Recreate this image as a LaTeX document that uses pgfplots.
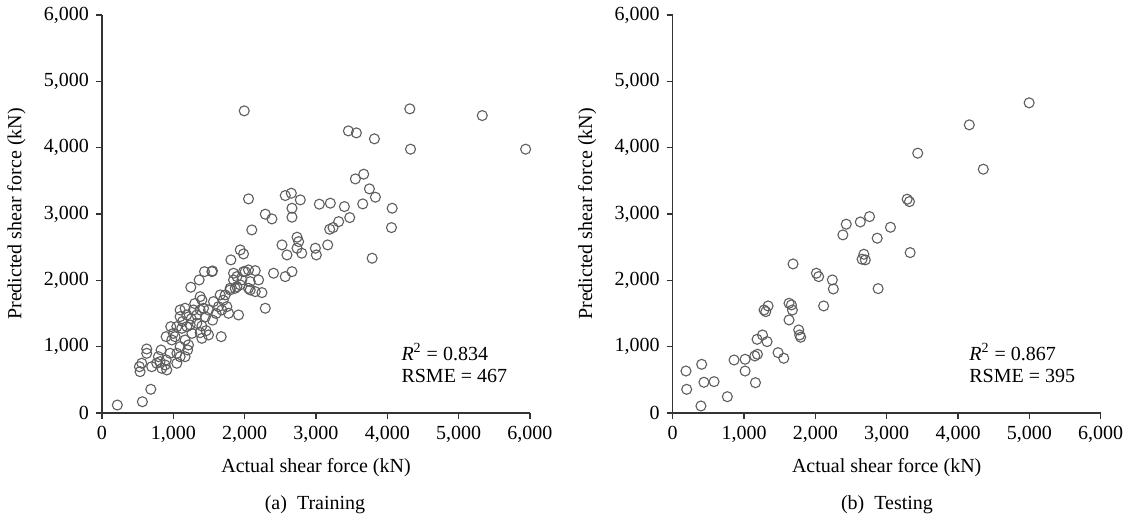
\documentclass[border=0pt]{standalone}
\usepackage{pgfplots}
\pgfplotsset{compat=1.18}
\usepackage{fontspec}
\setmainfont{Liberation Serif}
\definecolor{mk}{HTML}{5E5E5E}
\definecolor{ax}{HTML}{333333}
\pgfplotsset{
  myax/.style={
    scale only axis, width=214pt, height=199pt,
    xmin=0, xmax=6000, ymin=0, ymax=6000,
    axis lines=left, axis line style={-, ax, line width=0.6pt},
    tick align=outside, major tick length=3pt,
    tick style={ax, line width=0.6pt},
    xtick={0,1000,...,6000}, ytick={0,1000,...,6000},
    scaled ticks=false,
    /pgf/number format/assume math mode=true,
    /pgf/number format/1000 sep={,},
    ticklabel style={font=\fontsize{10}{12}\selectfont},
    label style={font=\fontsize{10}{12}\selectfont},
    xlabel={Actual shear force (kN)},
    ylabel={Predicted shear force (kN)},
    every axis x label/.style={at={(axis description cs:0.5,-0.136)}, anchor=center},
    every axis y label/.style={at={(axis description cs:-0.2,0.5)}, rotate=90, anchor=center},
    clip=false,
  },
  mystyle/.style={only marks, mark=o, mark size=2.5pt, mark options={draw=mk, line width=0.55pt}},
}
\begin{document}
\begin{tikzpicture}
\useasboundingbox (0,0) rectangle (563pt,-261.5pt);
\begin{axis}[myax, at={(51pt,-206.5pt)}, anchor=south west]
\addplot[mystyle] coordinates {
(215,120) (566,170) (684,357) (524,698) (534,623) (557,750) (627,965) (627,900)
(697,698) (768,750) (814,774) (885,724) (908,649) (838,674) (828,950) (791,849)
(955,900) (1049,750) (1095,849) (1165,849) (978,1101) (899,1151) (1025,1151)
(1095,1000) (1212,1026) (1165,1101) (964,1302) (1049,1302) (1119,1277) (1189,1302)
(1236,1327) (1329,1352) (1400,1312) (1376,1211) (1460,1241) (1400,1126) (1493,1176)
(1671,1151) (1095,1553) (1165,1579) (1095,1453) (1189,1478) (1282,1553) (1329,1478)
(1376,1553) (1423,1579) (1493,1553) (1400,1704) (1376,1754) (1563,1679) (1633,1603)
(1680,1553) (1750,1603) (1774,1503) (1657,1780) (1727,1780) (1797,1855) (1867,1880)
(1914,1478) (1938,1931) (2008,2131) (2054,1880) (1844,2006) (1891,2056) (1245,1896)
(1362,2006) (1437,2131) (1549,2142) (1807,2308) (1938,2459) (1984,2398) (2100,2760)
(2054,3228) (2523,2534) (2593,2383) (2734,2484) (2800,2409) (1844,2107) (1984,2131)
(2054,2157) (2148,2146) (2195,2006) (2078,1980) (1961,2006) (1891,1905) (2078,1855)
(2148,1830) (2242,1815) (1797,1880) (2405,2107) (2569,2056) (2663,2131) (2289,1579)
(1540,2131) (2289,2997) (2382,2926) (2569,3278) (2654,3313) (2780,3213) (2663,3087)
(2663,2952) (2734,2650) (2757,2584) (2991,2484) (3005,2383) (3164,2534) (3047,3148)
(3201,3163) (3398,3112) (3473,2946) (3318,2885) (3239,2795) (3192,2770) (3552,3529)
(3669,3600) (3749,3379) (3833,3253) (3655,3152) (4068,3087) (4058,2795) (3787,2333)
(4315,4585) (5331,4484) (4325,3977) (5939,3977) (3454,4253) (3566,4223) (3819,4133)
(1994,4555)
(1000,1200) (1130,1380) (1250,1420) (1300,1650) (1550,1400) (1600,1500) (900,800)
(1050,900) (1200,950) (1700,1700) (1450,1450) (1260,1200)
};
\node[anchor=west, font=\fontsize{10}{12}\selectfont] at (axis cs:4100,920) {\textit{R}\textsuperscript{2} = 0.834};
\node[anchor=west, font=\fontsize{10}{12}\selectfont] at (axis cs:4100,560) {RSME = 467};
\end{axis}
\begin{axis}[myax, at={(336.35pt,-206.5pt)}, anchor=south west]
\addplot[mystyle] coordinates {
(186,633) (196,357) (406,734) (438,463) (580,473) (396,106) (766,246) (860,799)
(1015,810) (1015,633) (1160,457) (1151,860) (1188,885) (1183,1111) (1259,1176)
(1323,1076) (1477,910) (1557,825) (1281,1553) (1305,1528) (1337,1614) (1631,1654)
(1664,1629) (1678,1553) (1631,1403) (1766,1252) (1780,1176) (1794,1142) (1687,2247)
(2014,2107) (2046,2056) (2116,1614) (2238,2006) (2252,1870) (2386,2685) (2433,2846)
(2630,2880) (2759,2961) (2680,2393) (2655,2318) (2700,2308) (2880,1875) (2867,2635)
(3053,2800) (3287,3223) (3319,3187) (3329,2418) (3435,3917) (4158,4344) (4354,3675)
(4997,4676)
};
\node[anchor=west, font=\fontsize{10}{12}\selectfont] at (axis cs:4060,920) {\textit{R}\textsuperscript{2} = 0.867};
\node[anchor=west, font=\fontsize{10}{12}\selectfont] at (axis cs:4060,560) {RSME = 395};
\end{axis}
\node[font=\fontsize{10}{12}\selectfont] at (157.5pt,-252.5pt) {(a)\ \ Training};
\node[font=\fontsize{10}{12}\selectfont] at (443.5pt,-252.5pt) {(b)\ \ Testing};
\end{tikzpicture}
\end{document}
